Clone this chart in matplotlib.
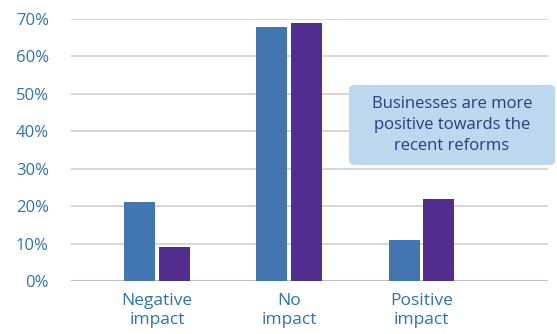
import numpy as np
import matplotlib.pyplot as plt
from matplotlib.patches import FancyBboxPatch

categories = ["Negative\nimpact", "No\nimpact", "Positive\nimpact"]
series_a = [21, 68, 11]
series_b = [9, 69, 22]
yticks = [0, 10, 20, 30, 40, 50, 60, 70]

plt.rcParams['font.family'] = ['Open Sans', 'DejaVu Sans']

fig = plt.figure(figsize=(5.57, 3.34), dpi=100)
ax = fig.add_axes([0.1275, 0.1587, 0.8565, 0.7843])

x = np.arange(len(categories))
w = 0.235
ax.bar(x - w / 2 - 0.012, series_a, width=w, color="#4276B0", zorder=3)
ax.bar(x + w / 2 + 0.012, series_b, width=w, color="#512D8F", zorder=3)

ax.set_xlim(-0.65, 2.96)
ax.set_ylim(0, 70)
ax.set_yticks(yticks)
ax.set_yticklabels([f"{t}%" for t in yticks])
ax.set_xticks(x)
ax.set_xticklabels(categories, linespacing=1.2)
ax.tick_params(axis="both", length=0, labelsize=12, labelcolor="#2E73AE")
ax.tick_params(axis="x", labelsize=12.5, pad=9)
ax.tick_params(axis="y", pad=16)
ax.grid(axis="y", color="#D0D0D0", linewidth=1.2, zorder=0)
for s in ax.spines.values():
    s.set_visible(False)
ax.axhline(0, color="#BDBDBD", linewidth=1.5, zorder=2)

box = FancyBboxPatch((0.6266, 0.506), 0.37, 0.24, boxstyle="round,pad=0,rounding_size=0.012",
                     transform=fig.transFigure, facecolor="#BDD7EE", edgecolor="none", zorder=5)
fig.patches.append(box)
fig.text(0.8115, 0.626, "Businesses are more\npositive towards the\nrecent reforms",
         ha="center", va="center", fontsize=12, color="#2B3D7C", linespacing=1.45, zorder=6)

fig.savefig("out.png", dpi=100)
